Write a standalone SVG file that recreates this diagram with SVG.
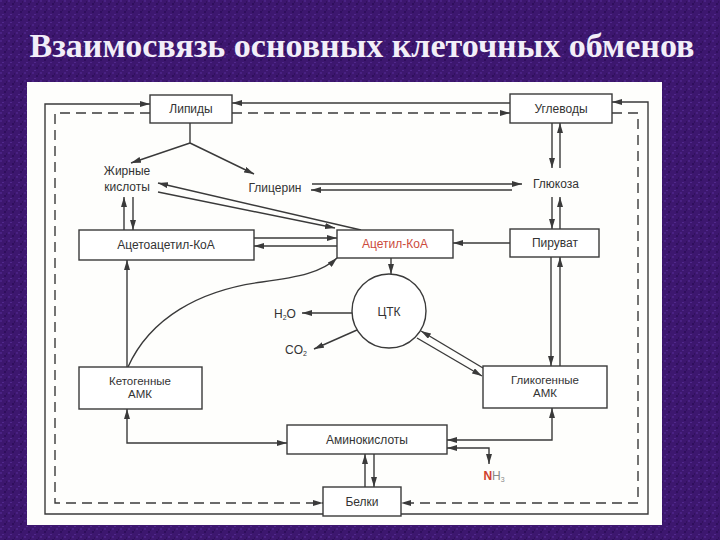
<svg xmlns="http://www.w3.org/2000/svg" width="720" height="540" viewBox="0 0 720 540">
<defs>
<pattern id="tex" width="8" height="8" patternUnits="userSpaceOnUse">
<rect width="8" height="8" fill="#3d176f"/>
<rect x="0" y="0" width="2" height="2" fill="#4a2284"/>
<rect x="4" y="3" width="2" height="2" fill="#2f0f5c"/>
<rect x="2" y="6" width="2" height="1" fill="#51298c"/>
<rect x="6" y="1" width="1" height="2" fill="#33125f"/>
</pattern>
<marker id="ah" markerUnits="userSpaceOnUse" markerWidth="10" markerHeight="6" refX="10" refY="3" orient="auto-start-reverse">
<path d="M0,0 L10,3 L0,6 z" fill="#3a3a3a"/>
</marker>
<style>
.box{fill:#ffffff;stroke:#3a3a3a;stroke-width:1.4}
.t{font-family:"Liberation Sans",Arial,sans-serif;font-size:12px;fill:#333;text-anchor:middle}
.t2{font-family:"Liberation Sans",Arial,sans-serif;font-size:11.5px;fill:#333;text-anchor:middle}
.ln{fill:none;stroke:#3a3a3a;stroke-width:1.4}
.dash{fill:none;stroke:#3a3a3a;stroke-width:1.4;stroke-dasharray:10 6}
.ae{marker-end:url(#ah)}
.ab{marker-start:url(#ah);marker-end:url(#ah)}
.as{marker-start:url(#ah)}
</style>
</defs>
<rect width="720" height="540" fill="url(#tex)"/>
<text x="362" y="57" font-family="'Liberation Serif','Times New Roman',serif" font-weight="bold" font-size="33" fill="#f2eef8" text-anchor="middle" textLength="665" lengthAdjust="spacingAndGlyphs">Взаимосвязь основных клеточных обменов</text>
<rect x="27" y="82" width="635" height="443" fill="#fefefc"/>

<g id="connectors">
<path class="ln ae" d="M323,514 L45,514 L45,104 L150,104"/>
<path class="ln ae" d="M510,103 L232,103"/>
<path class="ln ae" d="M401,514 L648,514 L648,102 L612,102"/>
<path class="dash ae" d="M150,113 L55,113 L55,503 L323,503"/>
<path class="dash ae" d="M232,113 L510,113"/>
<path class="dash ae" d="M612,113 L638,113 L638,503 L401,503"/>
<path class="ln" d="M190,123 L190,143"/>
<path class="ln ae" d="M190,143 L131,163"/>
<path class="ln ae" d="M190,143 L254,174"/>
<path class="ln ae" d="M312,184 L522,184"/>
<path class="ln as" d="M311,190 L512,190"/>
<path class="ln as" d="M158,183 L361,230"/>
<path class="ln ae" d="M158,192 L335,228"/>
<path class="ln ae" d="M124,230 L124,197"/>
<path class="ln ae" d="M133,197 L133,230"/>
<path class="ln ae" d="M254,238 L337,238"/>
<path class="ln ae" d="M337,246 L254,246"/>
<path class="ln ae" d="M510,243 L453,243"/>
<path class="ln ae" d="M552,123 L552,168"/>
<path class="ln ae" d="M560,168 L560,123"/>
<path class="ln ae" d="M552,197 L552,229"/>
<path class="ln ae" d="M560,229 L560,197"/>
<path class="ln ae" d="M551,257 L551,366"/>
<path class="ln ae" d="M560,366 L560,257"/>
<path class="ln ae" d="M391,258 L391,274"/>
<path class="ln ae" d="M352,313 L302,313"/>
<path class="ln ae" d="M357,330 L314,349"/>
<path class="ln ae" d="M483,368 L421,331"/>
<path class="ln ae" d="M417,338 L482,376"/>
<path class="ln ae" d="M127,367 L127,260"/>
<path class="ln ae" d="M128,367 C150,318 200,290 262,282 C300,277 322,272 337,258"/>
<path class="ln ab" d="M127,409 L127,443 L287,443"/>
<path class="ln ab" d="M552,408 L552,440 L447,440"/>
<path class="ln ab" d="M447,448 L489,448 L489,464"/>
<path class="ln ae" d="M365,487 L365,454"/>
<path class="ln ae" d="M374,454 L374,487"/>
</g>

<g id="lipidy"><rect class="box" x="150" y="95" width="82" height="28"/><text class="t" x="191" y="113">Липиды</text></g>
<g id="uglevody"><rect class="box" x="510" y="94" width="102" height="29"/><text class="t" x="561" y="113">Углеводы</text></g>
<g id="zhirnye"><text class="t" x="127" y="175">Жирные</text><text class="t" x="127" y="191">кислоты</text></g>
<g id="glicerin"><text class="t" x="275" y="192">Глицерин</text></g>
<g id="glukoza"><text class="t" x="556" y="188">Глюкоза</text></g>
<g id="acetoacetyl"><rect class="box" x="79" y="230" width="175" height="30"/><text class="t" x="166" y="249">Ацетоацетил-КоА</text></g>
<g id="acetyl"><rect class="box" x="337" y="230" width="116" height="28"/><text class="t" x="395" y="248" style="fill:#cc4a3c">Ацетил-КоА</text></g>
<g id="piruvat"><rect class="box" x="510" y="229" width="89" height="28"/><text class="t" x="555" y="247">Пируват</text></g>
<g id="ctk"><circle cx="389" cy="311" r="37" fill="#fff" stroke="#3a3a3a" stroke-width="1.4"/><text class="t" x="389" y="316">ЦТК</text></g>
<g id="h2o"><text class="t" x="285" y="318">H<tspan font-size="7" dy="2">2</tspan><tspan dy="-2">O</tspan></text></g>
<g id="co2"><text class="t" x="296" y="354">CO<tspan font-size="7" dy="2">2</tspan></text></g>
<g id="keto"><rect class="box" x="79" y="367" width="123" height="42"/><text class="t2" x="140" y="385">Кетогенные</text><text class="t2" x="140" y="398">АМК</text></g>
<g id="gliko"><rect class="box" x="483" y="366" width="124" height="42"/><text class="t2" x="545" y="384">Гликогенные</text><text class="t2" x="545" y="397">АМК</text></g>
<g id="amino"><rect class="box" x="287" y="425" width="160" height="29"/><text class="t" x="367" y="444">Аминокислоты</text></g>
<g id="nh3"><text class="t" x="494" y="480"><tspan font-weight="bold" fill="#d0402e">N</tspan><tspan fill="#888">H</tspan><tspan font-size="7" dy="2" fill="#888">3</tspan></text></g>
<g id="belki"><rect class="box" x="323" y="487" width="78" height="29"/><text class="t" x="362" y="506">Белки</text></g>
</svg>
